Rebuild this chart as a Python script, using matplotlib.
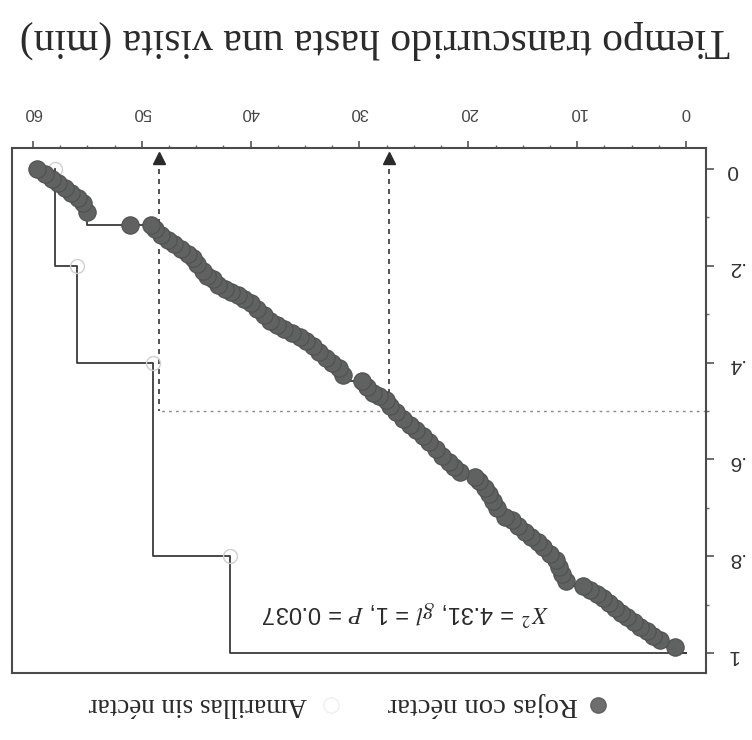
import matplotlib
matplotlib.use("Agg")
import matplotlib.pyplot as plt
from matplotlib.ticker import MultipleLocator, FixedLocator, FixedFormatter

# Rojas con néctar: tiempo (min) y proporción de flores aún sin visita
rojas_t = [1.0, 2.4, 3.0, 3.6, 4.2, 4.8, 5.4, 6.0, 6.5, 7.1, 7.6, 8.2, 8.8, 9.5,
           11.0, 11.4, 11.7, 11.9, 12.5, 13.1, 13.6, 14.2, 14.8, 15.4, 16.0, 16.6,
           17.4, 17.7, 18.1, 18.5, 19.0, 19.4,
           20.8, 21.3, 21.8, 22.4, 23.0, 23.6, 24.2, 24.8, 25.4, 26.0, 26.6, 27.2,
           27.6, 28.2, 28.8, 29.3, 29.8,
           31.5, 31.9, 32.5, 33.1, 33.7, 34.3, 34.9, 35.5, 36.2, 36.9, 37.6, 38.2,
           38.8, 39.4, 40.0, 40.6, 41.2, 41.8, 42.4, 43.0, 43.5, 44.0, 44.4, 44.9,
           45.3, 45.8, 46.4, 47.0, 47.6, 48.2, 48.8, 49.2,
           51.1, 55.0, 55.4, 55.9, 56.5, 57.1, 57.7, 58.3, 58.9, 59.6]
rojas_s = [0.988, 0.973, 0.965, 0.955, 0.946, 0.936, 0.926, 0.917, 0.907, 0.896, 0.886, 0.878, 0.870, 0.862,
           0.851, 0.836, 0.822, 0.808, 0.795, 0.781, 0.770, 0.760, 0.750, 0.738, 0.726, 0.719,
           0.700, 0.686, 0.672, 0.660, 0.645, 0.636,
           0.625, 0.615, 0.605, 0.592, 0.578, 0.564, 0.552, 0.540, 0.528, 0.516, 0.503, 0.490,
           0.478, 0.470, 0.462, 0.450, 0.438,
           0.425, 0.412, 0.400, 0.390, 0.378, 0.366, 0.356, 0.347, 0.338, 0.330, 0.322, 0.314,
           0.302, 0.290, 0.278, 0.268, 0.260, 0.254, 0.248, 0.240, 0.228, 0.222, 0.210, 0.196,
           0.184, 0.176, 0.166, 0.156, 0.146, 0.136, 0.124, 0.116,
           0.116, 0.089, 0.070, 0.060, 0.050, 0.040, 0.030, 0.020, 0.010, 0.0]

# Amarillas sin néctar
amarillas_t = [41.9, 49.0, 56.0, 58.0]
amarillas_s = [0.8, 0.4, 0.2, 0.0]

# tiempos medianos (flechas)
medianas = [27.3, 48.4]

x_ticks = [0, 10, 20, 30, 40, 50, 60]
y_ticks = [0, 0.2, 0.4, 0.6, 0.8, 1.0]
y_ticklabels = ['0', '.2', '.4', '.6', '.8', '1']

serif = 'Liberation Serif'
sans = 'Liberation Sans'
plt.rcParams['mathtext.fontset'] = 'stix'

fig = plt.figure(figsize=(7.52, 7.40), dpi=100)
ax = fig.add_axes([12 / 752, 67 / 740, 694 / 752, 525 / 740])

# la figura está girada 180 grados: ejes invertidos y textos rotados
ax.set_xlim(61.93, -1.84)
ax.set_ylim(1.041, -0.043)

line_col = '#3a3a3a'

ax.plot([0] + amarillas_t, [1] + amarillas_s, drawstyle='steps-post',
        color=line_col, lw=1.3, zorder=2)
ax.plot(amarillas_t, amarillas_s, 'o', ms=10, mfc='none', mec='#d0d0d0',
        mew=1.0, zorder=2)

ax.plot([0] + rojas_t, [1] + rojas_s, drawstyle='steps-post',
        color=line_col, lw=1.3, zorder=3)
ax.plot(rojas_t, rojas_s, 'o', ms=12.5, mfc='#5f6261', mec='#505050',
        mew=0.8, zorder=4)

# líneas de la mediana
ax.hlines(0.5, -1.84, medianas[1], colors='#8a8a8a', linestyles=(0, (2, 3)),
          lw=1.0, zorder=1)
for m in medianas:
    ax.vlines(m, -0.02, 0.5, colors='#333333', linestyles=(0, (3, 3)),
              lw=1.2, zorder=1)
    ax.plot([m], [-0.022], marker='^', ms=9, color='#2a2a2a', zorder=5)

ax.text(25.8, 0.915, r'$X^2$ = 4.31, $gl$ = 1, $P$ = 0.037', rotation=180,
        ha='center', va='center', fontsize=17, family=sans, color='#2a2a2a')

for sp in ax.spines.values():
    sp.set_color('#4a4a4a')
    sp.set_linewidth(1.5)

ax.xaxis.tick_top()
ax.yaxis.tick_right()
ax.xaxis.set_major_locator(FixedLocator(x_ticks))
ax.xaxis.set_minor_locator(MultipleLocator(2.5))
ax.yaxis.set_major_locator(FixedLocator(y_ticks))
ax.yaxis.set_major_formatter(FixedFormatter(y_ticklabels))
ax.yaxis.set_minor_locator(MultipleLocator(0.1))
ax.tick_params(axis='x', which='major', direction='out', length=5, width=1.2,
               pad=15, labelsize=12, colors='#555555', labelcolor='#444444')
ax.tick_params(axis='y', which='major', direction='out', length=6, width=1.2,
               pad=9, labelsize=15, colors='#555555', labelcolor='#333333')
ax.tick_params(which='minor', direction='out', length=2.5, width=1.0,
               colors='#666666')
for lab in ax.get_xticklabels() + ax.get_yticklabels():
    lab.set_rotation(180)
    lab.set_family(sans)

fig.text(375 / 752, 1 - 40 / 740, 'Tiempo transcurrido hasta una visita (min)',
         rotation=180, ha='center', va='center', fontsize=30, family=serif,
         color='#2a2a2a')

# leyenda
fig.text(483 / 752, 1 - 705 / 740, 'Rojas con néctar', rotation=180,
         ha='center', va='center', fontsize=20.5, family=serif, color='#2a2a2a')
fig.text(198 / 752, 1 - 705 / 740, 'Amarillas sin néctar', rotation=180,
         ha='center', va='center', fontsize=19.5, family=serif, color='#2a2a2a')
ax.plot([8.1], [1.107], 'o', ms=11, mfc='#6e6e6e', mec='#606060',
        clip_on=False, zorder=5)
ax.plot([32.6], [1.107], 'o', ms=11, mfc='none', mec='#efefef',
        clip_on=False, zorder=5)

fig.savefig('out.png', dpi=100, facecolor='white')
